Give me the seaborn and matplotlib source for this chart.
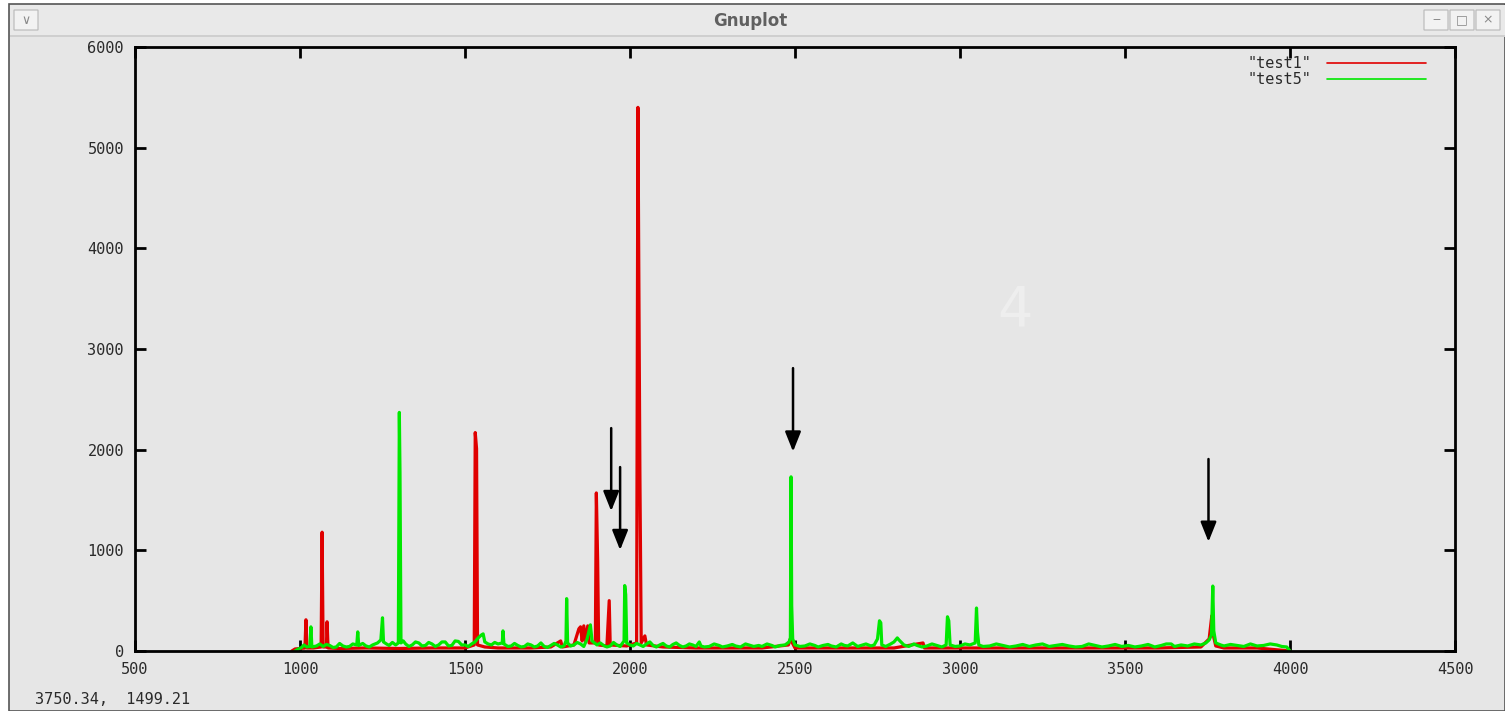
import matplotlib
matplotlib.use("Agg")
import matplotlib.pyplot as plt
from matplotlib.patches import Rectangle, FancyBboxPatch
import seaborn as sns
import pandas as pd

# ---------------- data ----------------
test1_x = [975, 985, 1000, 1015, 1018, 1021, 1040, 1064, 1067, 1070, 1080, 1082, 1085,
           1120, 1200, 1300, 1400, 1500, 1528, 1531, 1535, 1538, 1560, 1600, 1700, 1760,
           1790, 1795, 1830, 1845, 1850, 1855, 1860, 1865, 1872, 1876, 1895, 1898, 1902,
           1905, 1930, 1937, 1940, 1990, 2020, 2024, 2030, 2034, 2045, 2050, 2100, 2200,
           2300, 2400, 2480, 2486, 2492, 2500, 2600, 2700, 2800, 2888, 2892, 3000, 3200,
           3400, 3600, 3730, 3755, 3763, 3766, 3775, 3800, 3900, 4000]
test1_y = [0, 20, 25, 30, 310, 30, 30, 40, 1180, 40, 40, 290, 30,
           25, 30, 25, 30, 30, 60, 2170, 2010, 60, 40, 30, 30, 40,
           100, 40, 60, 220, 240, 100, 250, 100, 250, 80, 80, 1570, 890,
           60, 50, 500, 60, 50, 80, 5400, 1750, 80, 150, 60, 40, 30,
           30, 30, 60, 120, 80, 30, 30, 30, 30, 80, 30, 30, 30,
           30, 30, 40, 120, 350, 180, 50, 30, 30, 0]

test5_x = [985, 995, 1005, 1012, 1020, 1030, 1033, 1036, 1050, 1060, 1070, 1080, 1090,
           1100, 1110, 1120, 1130, 1140, 1150, 1160, 1172, 1175, 1178, 1190, 1200, 1210,
           1220, 1235, 1245, 1250, 1253, 1262, 1270, 1280, 1290, 1298, 1301, 1303, 1306,
           1313, 1320, 1330, 1340, 1350, 1360, 1370, 1380, 1390, 1400, 1410, 1420, 1430,
           1440, 1450, 1460, 1470, 1480, 1490, 1500, 1510, 1520, 1530, 1540, 1550, 1555,
           1560, 1570, 1580, 1590, 1600, 1613, 1615, 1618, 1630, 1640, 1650, 1660, 1670,
           1680, 1690, 1700, 1710, 1720, 1730, 1740, 1750, 1760, 1770, 1780, 1790, 1800,
           1806, 1808, 1811, 1820, 1830, 1840, 1850, 1860, 1870, 1880, 1885, 1900, 1910,
           1920, 1930, 1940, 1950, 1960, 1970, 1982, 1984, 1987, 1990, 2000, 2010, 2020,
           2030, 2040, 2050, 2060, 2070, 2080, 2090, 2100, 2110, 2120, 2130, 2140, 2150,
           2160, 2170, 2180, 2190, 2200, 2210, 2215, 2225, 2240, 2255, 2270, 2280, 2295,
           2310, 2320, 2335, 2350, 2360, 2375, 2390, 2400, 2415, 2430, 2440, 2455, 2470,
           2482, 2486, 2488, 2490, 2493, 2500, 2515, 2530, 2545, 2560, 2570, 2585, 2600,
           2610, 2625, 2640, 2650, 2660, 2675, 2690, 2700, 2715, 2730, 2740, 2750, 2756,
           2760, 2763, 2775, 2790, 2800, 2810, 2815, 2830, 2845, 2860, 2870, 2885, 2900,
           2915, 2930, 2945, 2958, 2962, 2966, 2970, 2985, 3000, 3015, 3030, 3046, 3050,
           3053, 3057, 3070, 3090, 3110, 3130, 3150, 3170, 3190, 3210, 3230, 3250, 3270,
           3290, 3310, 3330, 3350, 3370, 3390, 3410, 3430, 3450, 3470, 3490, 3510, 3530,
           3550, 3570, 3590, 3610, 3625, 3640, 3650, 3670, 3690, 3710, 3730, 3745, 3755,
           3762, 3766, 3769, 3775, 3790, 3800, 3820, 3840, 3860, 3880, 3900, 3920, 3940,
           3960, 3975, 3990, 4000]
test5_y = [0, 20, 35, 60, 40, 45, 240, 40, 50, 70, 45, 65, 55,
           35, 40, 75, 50, 40, 45, 70, 60, 190, 55, 75, 50, 40,
           60, 80, 110, 330, 90, 70, 55, 85, 60, 80, 2370, 1770, 80,
           100, 70, 45, 60, 90, 80, 50, 55, 85, 70, 45, 60, 90,
           90, 50, 55, 100, 95, 60, 60, 45, 70, 90, 130, 160, 170,
           90, 70, 60, 85, 70, 80, 200, 70, 45, 50, 75, 55, 40,
           45, 70, 60, 40, 50, 80, 45, 35, 55, 75, 60, 40, 50,
           100, 520, 80, 50, 60, 85, 70, 45, 120, 260, 100, 60, 80,
           55, 40, 50, 85, 60, 45, 100, 650, 560, 80, 60, 50, 75,
           60, 45, 70, 90, 55, 40, 60, 75, 50, 40, 65, 80, 55,
           40, 50, 70, 60, 45, 90, 50, 40, 45, 70, 55, 40, 50,
           65, 50, 40, 70, 60, 45, 55, 45, 70, 55, 40, 55, 60,
           90, 130, 1730, 450, 120, 60, 45, 50, 70, 55, 40, 55, 65,
           50, 40, 70, 55, 50, 80, 45, 55, 70, 50, 60, 120, 300,
           280, 60, 45, 70, 90, 130, 110, 60, 45, 70, 55, 40, 50,
           70, 55, 40, 60, 340, 300, 60, 45, 50, 70, 60, 80, 427,
           190, 60, 45, 50, 70, 55, 40, 50, 65, 45, 60, 70, 45,
           55, 65, 50, 40, 45, 70, 55, 40, 50, 65, 45, 55, 40,
           50, 65, 40, 55, 70, 70, 45, 60, 50, 70, 60, 80, 110,
           160, 645, 200, 80, 60, 50, 65, 55, 45, 70, 50, 55, 70,
           60, 45, 40, 0]

series_names = ['"test1"', '"test5"']
series_colors = ["#e00000", "#00e800"]

x_ticks = [500, 1000, 1500, 2000, 2500, 3000, 3500, 4000, 4500]
y_ticks = [0, 1000, 2000, 3000, 4000, 5000, 6000]

# arrows: (x, y_start, y_tip)
arrow_x = [1943, 1970, 2494, 3753]
arrow_y0 = [2214, 1827, 2810, 1907]
arrow_y1 = [1390, 1003, 1981, 1085]

window_title = "Gnuplot"
status_text = "3750.34,  1499.21"

# ---------------- figure ----------------
sns.set_theme(style="ticks")
plt.rcParams["font.family"] = ["DejaVu Sans Mono", "DejaVu Sans"]

W, H = 1505, 711
fig = plt.figure(figsize=(W / 100, H / 100), dpi=100, facecolor="white")

def px(x0, y0, w, h):
    return (x0 / W, 1 - (y0 + h) / H, w / W, h / H)

bg = "#e6e6e6"
# window body
r = px(9, 4, 1496, 707)
fig.patches.append(Rectangle(r[:2], r[2], r[3], transform=fig.transFigure,
                             facecolor=bg, edgecolor="#555555", lw=1.2, zorder=-5))
# title bar
r = px(10, 5, 1495, 30)
fig.patches.append(Rectangle(r[:2], r[2], r[3], transform=fig.transFigure,
                             facecolor="#e9e9e9", edgecolor="none", zorder=-4))
r = px(10, 35, 1495, 2)
fig.patches.append(Rectangle(r[:2], r[2], r[3], transform=fig.transFigure,
                             facecolor="#cfcfcf", edgecolor="none", zorder=-4))
fig.text(750 / W, 1 - 21 / H, window_title, ha="center", va="center",
         fontsize=12, color="#606060", family="DejaVu Sans", weight="bold")
# window buttons
for bx, sym in [(14, "\u2228"), (1424, "\u2012"), (1450, "\u25A1"), (1476, "\u00D7")]:
    r = px(bx, 10, 24, 20)
    fig.patches.append(FancyBboxPatch(r[:2], r[2], r[3], transform=fig.transFigure,
                                      boxstyle="round,pad=0.0", facecolor="#f2f2f2",
                                      edgecolor="#b8b8b8", lw=0.8, zorder=-3))
    fig.text((bx + 12) / W, 1 - 20 / H, sym, ha="center", va="center",
             fontsize=9, color="#888888", family="DejaVu Sans")

# faint watermark
fig.text(1015 / W, 1 - 310 / H, "4", ha="center", va="center", fontsize=40,
         color="#eeeeee", family="DejaVu Sans", zorder=-2)

# plot axes
ax = fig.add_axes([135 / W, 1 - 651 / H, 1320 / W, 604 / H])
ax.set_facecolor("none")

df1 = pd.DataFrame({"x": test1_x, "y": test1_y})
df5 = pd.DataFrame({"x": test5_x, "y": test5_y})
sns.lineplot(data=df1, x="x", y="y", ax=ax, color=series_colors[0], lw=2.3,
             estimator=None, sort=False, label=series_names[0])
sns.lineplot(data=df5, x="x", y="y", ax=ax, color=series_colors[1], lw=2.3,
             estimator=None, sort=False, label=series_names[1])

ax.set_xlim(500, 4500)
ax.set_ylim(0, 6000)
ax.set_xticks(x_ticks)
ax.set_yticks(y_ticks)
ax.set_xlabel("")
ax.set_ylabel("")
for s in ax.spines.values():
    s.set_visible(True)
    s.set_color("black")
    s.set_linewidth(2)
ax.tick_params(direction="in", length=8, width=2, top=True, right=True,
               labelsize=11, colors="black", pad=8)
for lab in ax.get_xticklabels() + ax.get_yticklabels():
    lab.set_color("#2a2a2a")

for xa, y0, y1 in zip(arrow_x, arrow_y0, arrow_y1):
    ax.annotate("", xy=(xa, y1), xytext=(xa, y0),
                arrowprops=dict(arrowstyle="-|>,head_length=1.0,head_width=0.4",
                                color="black", lw=1.8, shrinkA=0, shrinkB=0))

leg = ax.legend(loc="upper right", frameon=False, markerfirst=False,
                handlelength=6.5, fontsize=11, borderaxespad=0.2,
                labelspacing=0.05, handletextpad=1.0, bbox_to_anchor=(0.985, 1.0))
for t in leg.get_texts():
    t.set_color("#2a2a2a")
for h in leg.get_lines():
    h.set_linewidth(1.2)

fig.text(35 / W, 1 - 699 / H, status_text, ha="left", va="center",
         fontsize=11, color="#2a2a2a")

fig.savefig("out.png", dpi=100, facecolor="white")
